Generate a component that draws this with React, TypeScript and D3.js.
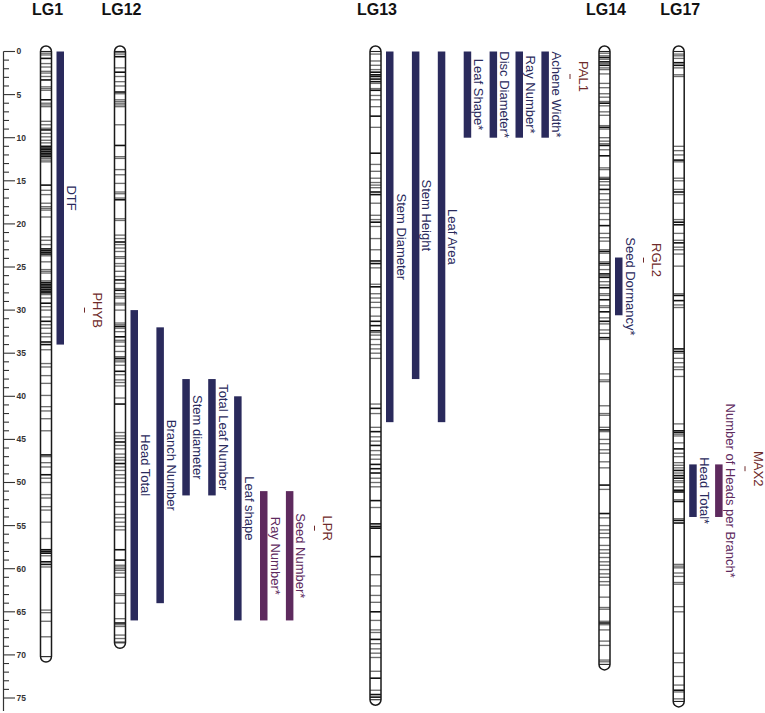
import React, { useEffect } from "react";
import * as d3 from "d3";

// ---------- DATA ----------
const CHROMOSOMES = ["LG1", "LG12", "LG13", "LG14", "LG17"];
const CHROM_LENGTHS = [70.2, 68.6, 75.2, 71.1, 75.4];

const LG1_MARKERS = [0.2,0.4,0.8,1.4,1.8,2.3,2.5,2.9,3.3,4.1,4.3,4.5,5.6,6.0,6.2,6.4,8.1,8.5,8.9,9.1,9.5,9.9,10.3,10.6,11.0,11.2,11.4,11.6,11.8,12.0,12.2,12.4,12.6,12.8,15.5,16.1,16.6,17.6,18.0,18.2,18.4,19.2,21.5,21.9,22.4,22.9,23.1,23.3,23.5,23.7,24.4,25.3,25.5,25.7,26.6,26.8,27.0,27.2,27.4,27.6,27.8,28.0,28.2,28.6,29.2,29.6,30.0,30.8,31.3,31.7,32.1,32.7,33.1,33.7,34.0,34.6,36.2,36.6,37.6,38.5,39.9,41.2,41.7,42.6,44.0,46.8,47.0,47.7,48.2,49.1,49.5,50.0,51.4,51.8,52.8,53.2,54.6,56.5,57.8,58.0,58.2,58.5,59.2,59.5,59.8,64.8,65.1,66.1,67.9];
const LG1_DARK = [0.8,3.3,5.6,9.1,11.0,11.2,11.4,11.6,11.8,12.0,12.2,15.5,22.9,23.1,23.3,23.5,26.8,27.0,27.2,27.4,27.6,27.8,28.0,29.2,31.3,33.7,34.0,46.8,49.1,57.8,58.0,58.2,59.2,59.5];

const LG12_MARKERS = [0.1,0.3,0.6,1.9,2.4,2.9,3.5,4.0,4.7,4.9,5.6,5.8,6.0,6.2,6.4,8.5,10.9,12.2,12.4,13.7,14.3,15.3,16.3,16.5,17.0,17.2,19.4,19.6,21.3,21.7,22.1,22.4,22.8,23.2,23.8,24.0,24.6,24.9,25.5,26.1,26.5,26.9,27.5,27.7,28.1,28.4,28.6,29.2,29.4,30.0,31.5,31.7,31.9,32.1,32.5,33.1,33.5,33.7,34.2,34.8,35.4,35.6,35.8,36.0,36.4,37.1,37.5,38.1,38.4,38.8,40.2,40.9,44.2,44.6,44.9,45.3,45.7,46.1,46.7,47.1,47.4,47.8,48.2,48.6,49.1,49.5,50.0,50.5,51.4,52.3,52.8,53.7,54.1,54.6,55.1,55.5,57.8,59.0,59.6,59.8,60.0,60.2,60.5,61.0,62.9,63.1,64.0,65.8,66.3,66.5,66.7,67.7,68.1,68.5];
const LG12_DARK = [0.6,2.4,4.7,10.9,17.2,22.1,26.5,27.7,31.9,33.1,35.6,37.1,40.9,45.3,47.8,57.8,59.0,66.3];

const LG13_MARKERS = [0.3,1.1,1.6,2.1,2.4,2.7,2.9,3.2,3.5,3.7,4.3,4.5,5.1,5.6,6.4,7.5,8.8,11.8,13.1,13.9,14.7,15.2,15.5,15.8,16.3,16.6,17.6,19.0,19.5,19.8,20.3,21.7,23.0,24.3,24.6,25.1,27.0,27.3,28.1,28.6,29.1,29.7,30.7,31.3,31.8,32.4,32.6,32.9,33.4,34.0,34.5,35.0,35.6,40.9,41.4,42.0,43.6,44.1,44.7,45.2,45.7,46.3,46.8,47.3,47.9,48.4,48.9,49.5,50.0,50.5,52.1,52.9,54.8,55.1,55.3,58.6,60.7,62.0,63.1,63.9,65.0,66.0,67.1,67.4,68.2,68.7,69.3,69.8,70.3,71.9,72.7,74.1,74.6,74.9];
const LG13_DARK = [2.4,2.7,2.9,3.2,3.5,4.5,7.5,11.8,16.3,16.6,19.8,24.3,24.6,27.3,31.3,31.8,32.4,41.4,44.1,45.7,47.9,48.4,48.9,52.1,54.8,55.1,55.3,58.6,65.0,68.2,72.7,74.6,74.9];

const LG14_MARKERS = [0.2,0.5,0.7,0.9,1.2,1.4,1.6,1.9,2.1,2.6,3.7,4.2,4.9,5.3,5.8,6.0,6.3,7.0,7.4,8.6,8.8,9.0,10.0,10.4,10.7,10.9,11.4,12.1,13.5,13.7,14.6,14.8,15.1,15.5,16.0,16.5,17.2,17.6,18.1,18.8,19.5,20.2,21.1,21.6,22.0,23.0,23.2,23.4,24.4,24.6,24.8,25.3,25.8,26.0,26.2,26.7,27.1,27.4,28.1,28.3,28.8,29.5,29.7,30.2,30.9,31.3,31.6,32.3,32.7,33.2,33.4,37.4,38.1,38.3,41.1,42.0,42.2,43.6,43.9,44.1,45.0,45.5,46.2,46.6,47.6,48.3,50.3,50.8,53.6,54.1,55.0,55.5,55.9,56.4,57.3,57.8,58.2,58.7,59.2,59.6,60.1,60.6,61.0,61.5,61.9,63.3,64.5,64.7,66.1,66.3,66.5,67.1,68.4,68.9,70.6,70.8];
const LG14_DARK = [0.7,1.2,1.6,6.0,8.8,10.9,12.1,14.8,16.0,20.2,23.2,24.6,25.8,26.2,27.4,28.8,30.2,31.3,33.2,43.9,50.3,53.6,66.3];

const LG17_MARKERS = [0.3,0.5,0.8,1.3,1.6,1.9,2.7,2.9,11.0,11.5,12.0,12.6,12.8,14.7,15.0,16.0,16.3,16.6,17.6,19.5,19.8,20.1,21.1,21.9,22.2,22.7,23.0,23.5,24.9,28.1,28.3,28.9,29.4,29.7,34.5,34.8,35.0,35.6,36.1,36.6,36.9,37.7,43.2,44.0,44.2,44.4,44.6,45.4,46.1,46.6,47.0,47.7,48.0,48.3,48.6,48.9,49.2,49.5,49.8,50.0,50.5,50.9,51.1,52.0,52.2,54.2,54.4,54.7,59.5,59.7,59.9,60.5,60.9,61.6,61.8,64.4,65.0,69.8,70.9,72.5,73.5,74.1,74.3,75.1];
const LG17_DARK = [1.3,1.6,12.6,16.3,19.8,20.1,22.2,28.3,28.9,34.5,34.8,44.0,44.2,46.1,48.6,49.2,49.5,50.9,51.1,52.2,54.4,54.7,74.1];

const MARKERS = [LG1_MARKERS, LG12_MARKERS, LG13_MARKERS, LG14_MARKERS, LG17_MARKERS];
const DARK = [LG1_DARK, LG12_DARK, LG13_DARK, LG14_DARK, LG17_DARK];

// QTLs
const QTL_CHROM = [0, 1, 1, 1, 1, 1, 1, 1, 2, 2, 2, 2, 2, 2, 2, 3, 4, 4];
const QTL_TRAIT = ["DTF", "Head Total", "Branch Number", "Stem diameter", "Total Leaf Number", "Leaf shape", "Ray Number*", "Seed Number*",
  "Stem Diameter", "Stem Height", "Leaf Area", "Leaf Shape*", "Disc Diameter*", "Ray Number*", "Achene Width*",
  "Seed Dormancy*", "Head Total*", "Number of Heads per Branch*"];
const QTL_START = [0, 30, 32, 38, 38, 40, 51, 51, 0, 0, 0, 0, 0, 0, 0, 23.9, 47.9, 47.9];
const QTL_END = [34, 66, 64, 51.5, 51.5, 66, 66, 66, 43, 38, 43, 10, 10, 10, 10, 30.6, 54, 54];
const QTL_GROUP = ["a", "a", "a", "a", "a", "a", "b", "b", "a", "a", "a", "a", "a", "a", "a", "a", "a", "b"];

// Candidate genes
const GENE_NAME = ["PHYB", "LPR", "PAL1", "RGL2", "MAX2"];
const GENE_POS = [30, 55.3, 2.9, 24.2, 48.4];

const AXIS_MAX = 75;

// ---------- LAYOUT ----------
const CHROM_X = [40.5, 114.5, 370, 599, 673.2];
const CHROM_W = 11;
const BAR_W = 7.5;
const BAR_GAP = 5;
const BAR_STEP = 25.9;
const GENE_X = [93, 323, 578.5, 652, 753.5];
const NAVY = "#2a2a5c";
const PURPLE = "#5e2a5e";
const GENE_COLOR = "#6e2a2a";
const FONT = "'Liberation Sans', Arial, Helvetica, sans-serif";

export default function App() {
  useEffect(() => {
    document.body.style.margin = "0";
  }, []);

  const y = d3.scaleLinear().domain([0, AXIS_MAX]).range([51.5, 698]);
  const majors = y.ticks(15);
  const minors = y.ticks(75);

  const slotCount: number[] = CHROMOSOMES.map(() => 0);
  const bars = QTL_TRAIT.map((t, i) => {
    const c = QTL_CHROM[i];
    const slot = slotCount[c]++;
    const x = CHROM_X[c] + CHROM_W + BAR_GAP + slot * BAR_STEP;
    return { t, x, s: QTL_START[i], e: QTL_END[i], color: QTL_GROUP[i] === "a" ? NAVY : PURPLE };
  });

  return (
    <svg width={765} height={713} style={{ position: "absolute", left: 0, top: 0, background: "#fff" }} fontFamily={FONT}>
      <rect x={0} y={0} width={765} height={713} fill="#fff" />
      <g>
        <line x1={3.5} x2={3.5} y1={y(0)} y2={y(76.5)} stroke="#333" strokeWidth={1.2} />
        {minors.map((v) => (
          <line key={"m" + v} x1={3.5} x2={majors.includes(v) ? 15 : 9} y1={y(v)} y2={y(v)} stroke="#333" strokeWidth={1.1} />
        ))}
        {majors.map((v) => (
          <text key={"l" + v} x={16.5} y={y(v)} dy="0.35em" fontSize={8.5} fontWeight="bold" fill="#333">
            {v}
          </text>
        ))}
      </g>
      {CHROMOSOMES.map((name, ci) => {
        const x0 = CHROM_X[ci];
        const x1 = x0 + CHROM_W;
        const r = CHROM_W / 2;
        const y0 = y(0);
        const y1 = y(CHROM_LENGTHS[ci]);
        const path = `M${x0},${y0} A${r},${r} 0 0 1 ${x1},${y0} L${x1},${y1} A${r},${r} 0 0 1 ${x0},${y1} Z`;
        const dark = new Set(DARK[ci]);
        return (
          <g key={name}>
            <text x={x0 + r + 1.5} y={15} textAnchor="middle" fontSize={16} fontWeight="bold" fill="#111">
              {name}
            </text>
            <path d={path} fill="#fff" stroke="none" />
            {MARKERS[ci].map((m, k) => (
              <line key={k} x1={x0} x2={x1} y1={y(m)} y2={y(m)} stroke={dark.has(m) ? "#111" : "#6f6f6f"} strokeWidth={dark.has(m) ? 1.6 : 1.35} />
            ))}
            <line x1={x0} x2={x1} y1={y0} y2={y0} stroke="#222" strokeWidth={1.1} />
            <line x1={x0} x2={x1} y1={y1} y2={y1} stroke="#222" strokeWidth={1.1} />
            <path d={path} fill="none" stroke="#1a1a1a" strokeWidth={1.5} />
          </g>
        );
      })}
      {bars.map((b, i) => (
        <g key={"b" + i}>
          <rect x={b.x} y={y(b.s)} width={BAR_W} height={y(b.e) - y(b.s)} fill={b.color} />
          <text
            transform={`translate(${b.x + BAR_W + 3},${y((b.s + b.e) / 2)}) rotate(90)`}
            textAnchor="middle"
            fontSize={13}
            fill={b.color}
          >
            {b.t}
          </text>
        </g>
      ))}
      {GENE_NAME.map((g, i) => (
        <g key={g}>
          <text transform={`translate(${GENE_X[i]},${y(GENE_POS[i])}) rotate(90)`} textAnchor="middle" fontSize={13} fill={GENE_COLOR}>
            {g}
          </text>
          <line x1={GENE_X[i] - 8.5} x2={GENE_X[i] - 8.5} y1={y(GENE_POS[i]) - 2.5} y2={y(GENE_POS[i]) + 2.5} stroke={GENE_COLOR} strokeWidth={1} />
        </g>
      ))}
    </svg>
  );
}
